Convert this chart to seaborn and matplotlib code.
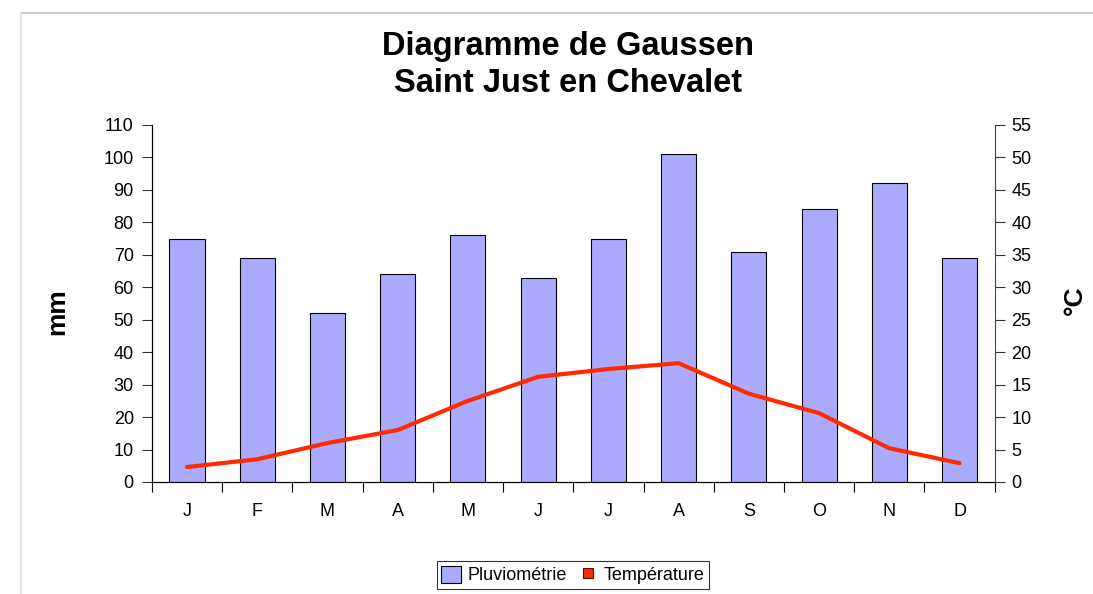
import numpy as np
import pandas as pd
import matplotlib
matplotlib.use("Agg")
import matplotlib.pyplot as plt
from matplotlib.lines import Line2D
from matplotlib.patches import Patch
from matplotlib.ticker import MultipleLocator, FixedLocator
import seaborn as sns

# Données climatiques
mois = ["J", "F", "M", "A", "M", "J", "J", "A", "S", "O", "N", "D"]
pluie = [75, 69, 52, 64, 76, 63, 75, 101, 71, 84, 92, 69]
temperature = [2.3, 3.5, 6.0, 8.0, 12.5, 16.2, 17.4, 18.3, 13.6, 10.6, 5.2, 2.9]

df = pd.DataFrame({"pos": np.arange(len(mois)), "pluie": pluie, "temp": temperature})

sns.set_style("ticks")
plt.rcParams["font.family"] = ["Liberation Sans", "DejaVu Sans"]
plt.rcParams["text.color"] = "black"
plt.rcParams["axes.labelcolor"] = "black"
plt.rcParams["xtick.color"] = "black"
plt.rcParams["ytick.color"] = "black"

fig = plt.figure(figsize=(10.93, 5.94), dpi=100)
ax = fig.add_axes([0.139, 0.1886, 0.771, 0.601])

# Barres pluviométrie
sns.barplot(data=df, x="pos", y="pluie", ax=ax, color="#aaaaff", saturation=1,
            width=0.5, edgecolor="black", linewidth=0.8)

# Courbe température
ax2 = ax.twinx()
sns.lineplot(data=df, x="pos", y="temp", ax=ax2, color="#ff2a00", linewidth=3)

ax.set_xlim(-0.5, 11.5)
ax.set_ylim(0, 110)
ax2.set_ylim(0, 55)
ax.yaxis.set_major_locator(MultipleLocator(10))
ax2.yaxis.set_major_locator(MultipleLocator(5))

ax.set_xticks(np.arange(12))
ax.set_xticklabels(mois)
ax.xaxis.set_minor_locator(FixedLocator(np.arange(-0.5, 12, 1)))
ax.tick_params(axis="x", which="major", length=0, pad=15, labelsize=13)
ax.tick_params(axis="x", which="minor", length=7, width=0.8, color="black")
ax.tick_params(axis="y", length=7, width=0.8, pad=6, labelsize=13, color="#333333")
ax2.tick_params(axis="y", length=7, width=0.8, pad=5, labelsize=13, color="#333333")

ax.set_xlabel("")
ax.set_ylabel("")
ax2.set_xlabel("")
ax2.set_ylabel("")

for a in (ax, ax2):
    a.spines["top"].set_visible(False)
    a.spines["left"].set_linewidth(0.8)
    a.spines["bottom"].set_linewidth(0.8)
    a.spines["left"].set_color("black")
    a.spines["bottom"].set_color("black")
ax.spines["right"].set_visible(False)
ax2.spines["right"].set_visible(True)
ax2.spines["right"].set_linewidth(0.8)
ax2.spines["right"].set_color("#444444")

fig.text(57 / 1093, 1 - 312 / 594, "mm", rotation=90, ha="center", va="center",
         fontsize=19, fontweight="bold")
fig.text(1075 / 1093, 1 - 300 / 594, "°C", rotation=90, ha="center", va="center",
         fontsize=19, fontweight="bold")

fig.text(568 / 1093, 1 - 65 / 594, "Diagramme de Gaussen\nSaint Just en Chevalet",
         ha="center", va="center", fontsize=23.5, fontweight="bold", linespacing=1.23)

handles = [
    Patch(facecolor="#aaaaff", edgecolor="black", linewidth=0.8),
    Line2D([], [], linestyle="none", marker="s", markersize=7,
           markerfacecolor="#ff2a00", markeredgecolor="#551100", markeredgewidth=0.8),
]
leg = fig.legend(handles, ["Pluviométrie", "Température"], loc="center",
                 bbox_to_anchor=(573 / 1093, 1 - 575 / 594), ncol=2,
                 fontsize=13, frameon=True, fancybox=False, edgecolor="black",
                 handlelength=1.1, handleheight=1.1, handletextpad=0.35,
                 columnspacing=0.6, borderpad=0.25, borderaxespad=0)
leg.get_frame().set_linewidth(0.8)

# Cadre gris clair
fig.add_artist(Line2D([21 / 1093, 1], [1 - 13 / 594, 1 - 13 / 594],
                      transform=fig.transFigure, color="#c0c0c0", linewidth=1.2))
fig.add_artist(Line2D([21 / 1093, 21 / 1093], [0, 1 - 13 / 594],
                      transform=fig.transFigure, color="#e0e0e0", linewidth=1.2))

fig.savefig("out.png", dpi=100)
